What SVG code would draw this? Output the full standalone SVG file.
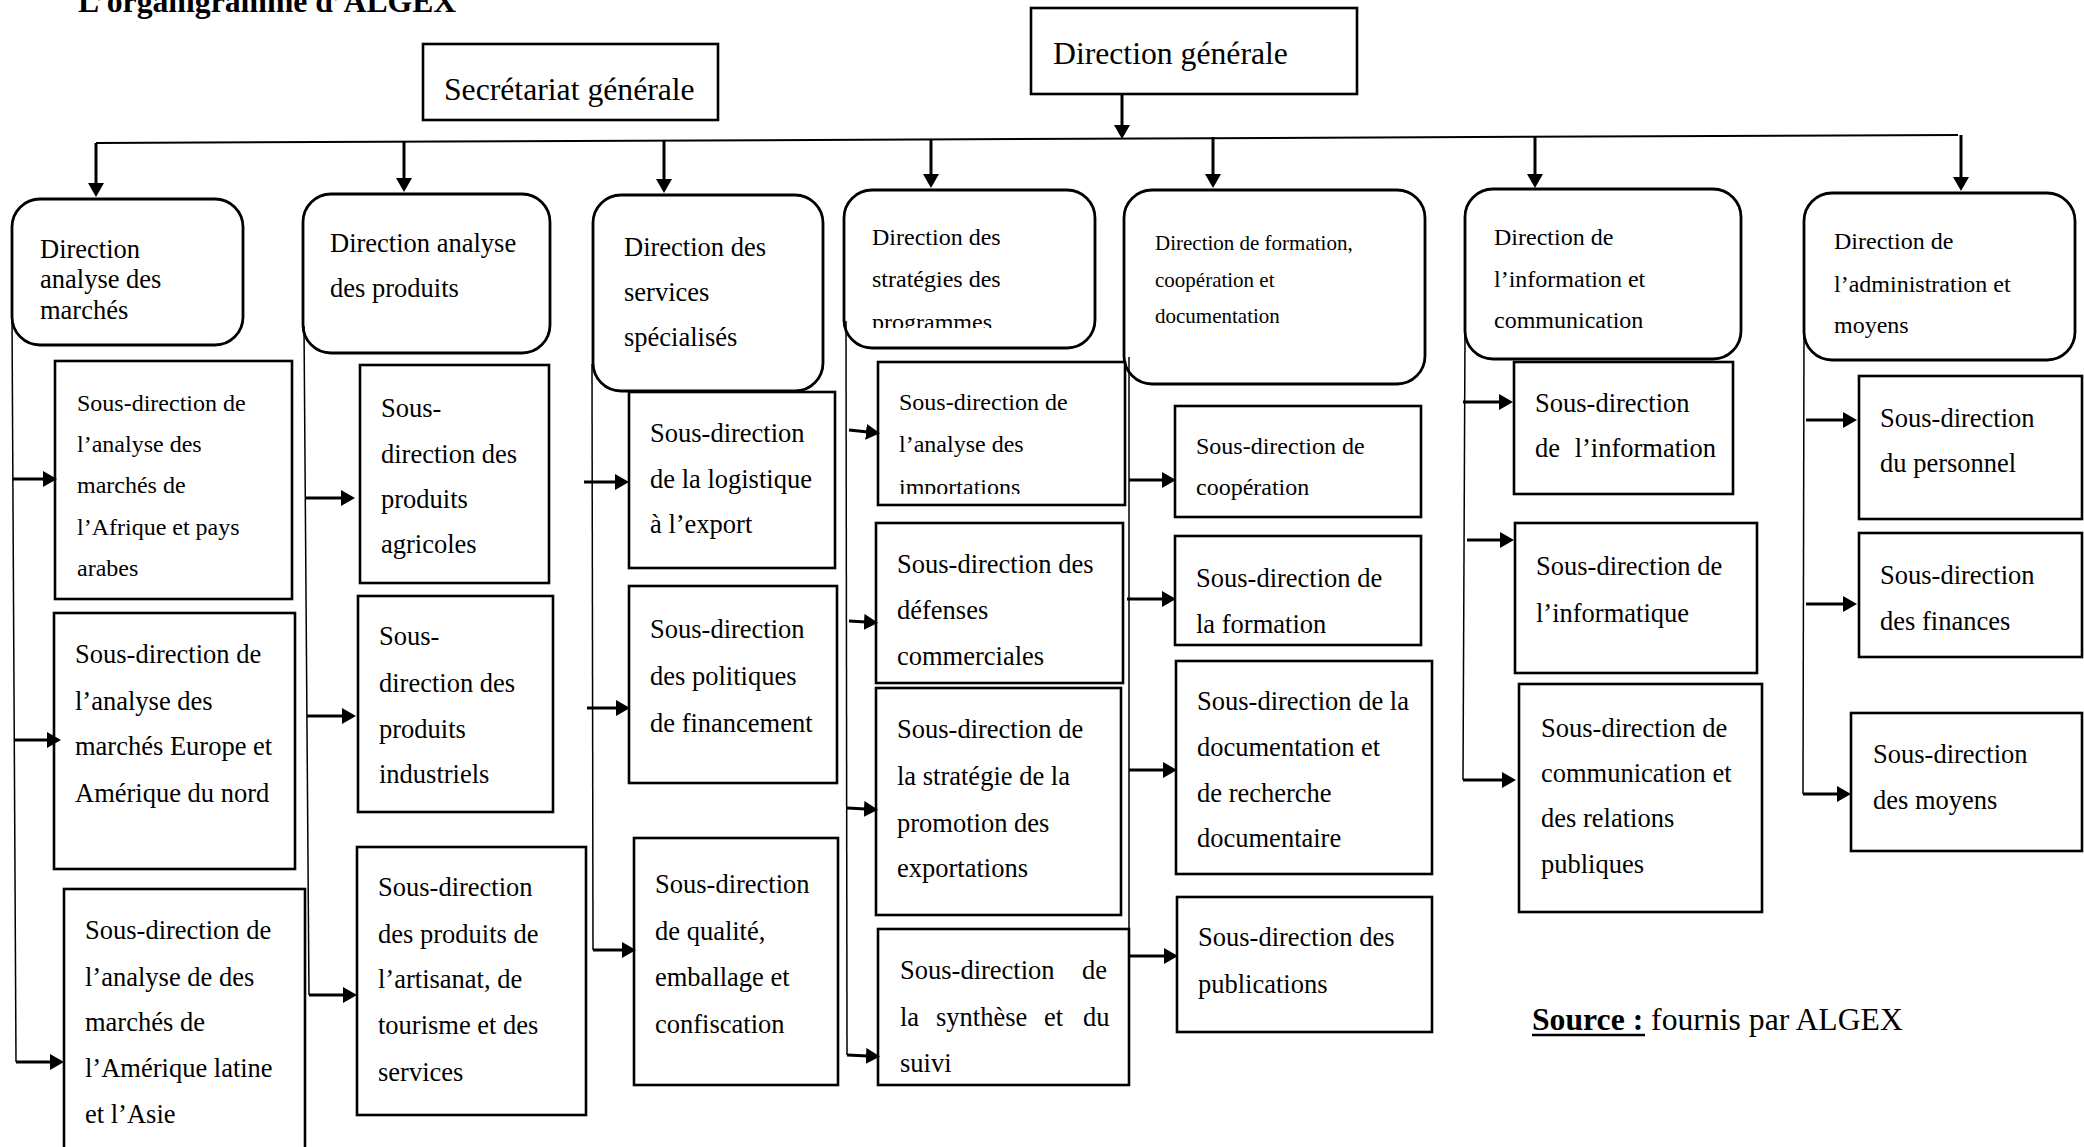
<svg xmlns="http://www.w3.org/2000/svg" width="2084" height="1147" viewBox="0 0 2084 1147">
<style>
text{font-family:"Liberation Serif","Times New Roman",serif;fill:#000}
.b{fill:#fff;stroke:#000;stroke-width:2.6}
.r{fill:#fff;stroke:#000;stroke-width:2.8}
.f32{font-size:31.7px}
.f26{font-size:26.5px}
.f24{font-size:24px}
.f21{font-size:21px}
.v{stroke:#000;stroke-width:1.5;fill:none}
.bus{stroke:#000;stroke-width:2;fill:none}
.a{stroke:#000;stroke-width:3;fill:none;marker-end:url(#ah)}
</style>
<defs>
<marker id="ah" markerUnits="userSpaceOnUse" markerWidth="16" markerHeight="16" refX="2" refY="8" orient="auto"><path d="M0,0 L14,8 L0,16 z" fill="#000"/></marker>
<clipPath id="c4"><rect x="844" y="190" width="251" height="138"/></clipPath>
<clipPath id="c4a"><rect x="878" y="361" width="247" height="133"/></clipPath>
</defs>

<text x="78" y="12" style="font-size:31.7px;font-weight:bold">L’organigramme d’ALGEX</text>

<g id="secretariat">
<rect class="b" x="423" y="44" width="295" height="76"/>
<text class="f32" x="444" y="100">Secrétariat générale</text>
</g>
<g id="direction-generale">
<rect class="b" x="1031" y="8" width="326" height="86"/>
<text class="f32" x="1053" y="64">Direction générale</text>
</g>

<g id="d1">
<rect class="r" x="12" y="199" width="231" height="146" rx="28"/>
<text class="f26"><tspan x="40" y="258">Direction</tspan><tspan x="40" y="288">analyse des</tspan><tspan x="40" y="319">marchés</tspan></text>
</g>
<g id="d2">
<rect class="r" x="303" y="194" width="247" height="159" rx="28"/>
<text class="f26"><tspan x="330" y="252">Direction analyse</tspan><tspan x="330" y="297">des produits</tspan></text>
</g>
<g id="d3">
<rect class="r" x="593" y="195" width="230" height="196" rx="28"/>
<text class="f26"><tspan x="624" y="256">Direction des</tspan><tspan x="624" y="301">services</tspan><tspan x="624" y="346">spécialisés</tspan></text>
</g>
<g id="d4">
<rect class="r" x="844" y="190" width="251" height="158" rx="28"/>
<text class="f24" clip-path="url(#c4)"><tspan x="872" y="245">Direction des</tspan><tspan x="872" y="287">stratégies des</tspan><tspan x="872" y="330">programmes</tspan></text>
</g>
<g id="d5">
<rect class="r" x="1124" y="190" width="301" height="194" rx="28"/>
<text class="f21"><tspan x="1155" y="250">Direction de formation,</tspan><tspan x="1155" y="287">coopération et</tspan><tspan x="1155" y="323">documentation</tspan></text>
</g>
<g id="d6">
<rect class="r" x="1465" y="189" width="276" height="170" rx="28"/>
<text class="f24"><tspan x="1494" y="245">Direction de</tspan><tspan x="1494" y="287">l’information et</tspan><tspan x="1494" y="328">communication</tspan></text>
</g>
<g id="d7">
<rect class="r" x="1804" y="193" width="271" height="167" rx="28"/>
<text class="f24"><tspan x="1834" y="249">Direction de</tspan><tspan x="1834" y="292">l’administration et</tspan><tspan x="1834" y="333">moyens</tspan></text>
</g>

<g id="s1a">
<rect class="b" x="55" y="361" width="237" height="238"/>
<text class="f24"><tspan x="77" y="411">Sous-direction de</tspan><tspan x="77" y="452">l’analyse des</tspan><tspan x="77" y="493">marchés de</tspan><tspan x="77" y="535">l’Afrique et pays</tspan><tspan x="77" y="576">arabes</tspan></text>
</g>
<g id="s1b">
<rect class="b" x="54" y="613" width="241" height="256"/>
<text class="f26"><tspan x="75" y="663">Sous-direction de</tspan><tspan x="75" y="710">l’analyse des</tspan><tspan x="75" y="755">marchés Europe et</tspan><tspan x="75" y="802">Amérique du nord</tspan></text>
</g>
<g id="s1c">
<rect class="b" x="64" y="889" width="241" height="280"/>
<text class="f26"><tspan x="85" y="939">Sous-direction de</tspan><tspan x="85" y="986">l’analyse de des</tspan><tspan x="85" y="1031">marchés de</tspan><tspan x="85" y="1077">l’Amérique latine</tspan><tspan x="85" y="1123">et l’Asie</tspan></text>
</g>

<g id="s2a">
<rect class="b" x="360" y="365" width="189" height="218"/>
<text class="f26"><tspan x="381" y="417">Sous-</tspan><tspan x="381" y="463">direction des</tspan><tspan x="381" y="508">produits</tspan><tspan x="381" y="553">agricoles</tspan></text>
</g>
<g id="s2b">
<rect class="b" x="358" y="596" width="195" height="216"/>
<text class="f26"><tspan x="379" y="645">Sous-</tspan><tspan x="379" y="692">direction des</tspan><tspan x="379" y="738">produits</tspan><tspan x="379" y="783">industriels</tspan></text>
</g>
<g id="s2c">
<rect class="b" x="357" y="847" width="229" height="268"/>
<text class="f26"><tspan x="378" y="896">Sous-direction</tspan><tspan x="378" y="943">des produits de</tspan><tspan x="378" y="988">l’artisanat, de</tspan><tspan x="378" y="1034">tourisme et des</tspan><tspan x="378" y="1081">services</tspan></text>
</g>

<g id="s3a">
<rect class="b" x="629" y="392" width="206" height="176"/>
<text class="f26"><tspan x="650" y="442">Sous-direction</tspan><tspan x="650" y="488">de la logistique</tspan><tspan x="650" y="533">à l’export</tspan></text>
</g>
<g id="s3b">
<rect class="b" x="629" y="586" width="208" height="197"/>
<text class="f26"><tspan x="650" y="638">Sous-direction</tspan><tspan x="650" y="685">des politiques</tspan><tspan x="650" y="732">de financement</tspan></text>
</g>
<g id="s3c">
<rect class="b" x="634" y="838" width="204" height="247"/>
<text class="f26"><tspan x="655" y="893">Sous-direction</tspan><tspan x="655" y="940">de qualité,</tspan><tspan x="655" y="986">emballage et</tspan><tspan x="655" y="1033">confiscation</tspan></text>
</g>

<g id="s4a">
<rect class="b" x="878" y="362" width="247" height="143"/>
<text class="f24" clip-path="url(#c4a)"><tspan x="899" y="410">Sous-direction de</tspan><tspan x="899" y="452">l’analyse des</tspan><tspan x="899" y="495">importations</tspan></text>
</g>
<g id="s4b">
<rect class="b" x="876" y="523" width="247" height="160"/>
<text class="f26"><tspan x="897" y="573">Sous-direction des</tspan><tspan x="897" y="619">défenses</tspan><tspan x="897" y="665">commerciales</tspan></text>
</g>
<g id="s4c">
<rect class="b" x="876" y="688" width="245" height="227"/>
<text class="f26"><tspan x="897" y="738">Sous-direction de</tspan><tspan x="897" y="785">la stratégie de la</tspan><tspan x="897" y="832">promotion des</tspan><tspan x="897" y="877">exportations</tspan></text>
</g>
<g id="s4d">
<rect class="b" x="878" y="929" width="251" height="156"/>
<text class="f26"><tspan x="900" y="979">Sous-direction</tspan><tspan x="1082" y="979">de</tspan><tspan x="900" y="1026">la</tspan><tspan x="936" y="1026">synthèse</tspan><tspan x="1044" y="1026">et</tspan><tspan x="1083" y="1026">du</tspan><tspan x="900" y="1072">suivi</tspan></text>
</g>

<g id="s5a">
<rect class="b" x="1175" y="406" width="246" height="111"/>
<text class="f24"><tspan x="1196" y="454">Sous-direction de</tspan><tspan x="1196" y="495">coopération</tspan></text>
</g>
<g id="s5b">
<rect class="b" x="1175" y="536" width="246" height="109"/>
<text class="f26"><tspan x="1196" y="587">Sous-direction de</tspan><tspan x="1196" y="633">la formation</tspan></text>
</g>
<g id="s5c">
<rect class="b" x="1176" y="661" width="256" height="213"/>
<text class="f26"><tspan x="1197" y="710">Sous-direction de la</tspan><tspan x="1197" y="756">documentation et</tspan><tspan x="1197" y="802">de recherche</tspan><tspan x="1197" y="847">documentaire</tspan></text>
</g>
<g id="s5d">
<rect class="b" x="1177" y="897" width="255" height="135"/>
<text class="f26"><tspan x="1198" y="946">Sous-direction des</tspan><tspan x="1198" y="993">publications</tspan></text>
</g>

<g id="s6a">
<rect class="b" x="1514" y="362" width="219" height="132"/>
<text class="f26"><tspan x="1535" y="412">Sous-direction</tspan><tspan x="1535" y="457" word-spacing="8">de l’information</tspan></text>
</g>
<g id="s6b">
<rect class="b" x="1515" y="523" width="242" height="150"/>
<text class="f26"><tspan x="1536" y="575">Sous-direction de</tspan><tspan x="1536" y="622">l’informatique</tspan></text>
</g>
<g id="s6c">
<rect class="b" x="1519" y="684" width="243" height="228"/>
<text class="f26"><tspan x="1541" y="737">Sous-direction de</tspan><tspan x="1541" y="782">communication et</tspan><tspan x="1541" y="827">des relations</tspan><tspan x="1541" y="873">publiques</tspan></text>
</g>

<g id="s7a">
<rect class="b" x="1859" y="376" width="223" height="143"/>
<text class="f26"><tspan x="1880" y="427">Sous-direction</tspan><tspan x="1880" y="472">du personnel</tspan></text>
</g>
<g id="s7b">
<rect class="b" x="1859" y="533" width="223" height="124"/>
<text class="f26"><tspan x="1880" y="584">Sous-direction</tspan><tspan x="1880" y="630">des finances</tspan></text>
</g>
<g id="s7c">
<rect class="b" x="1851" y="713" width="231" height="138"/>
<text class="f26"><tspan x="1873" y="763">Sous-direction</tspan><tspan x="1873" y="809">des moyens</tspan></text>
</g>

<g id="connectors">
<line class="bus" x1="96" y1="143" x2="1958" y2="135"/>
<line class="a" x1="1122" y1="94" x2="1122" y2="127"/>
<line class="a" x1="96" y1="143" x2="96" y2="185"/>
<line class="a" x1="404" y1="141" x2="404" y2="180"/>
<line class="a" x1="664" y1="140" x2="664" y2="181"/>
<line class="a" x1="931" y1="139" x2="931" y2="176"/>
<line class="a" x1="1213" y1="137" x2="1213" y2="176"/>
<line class="a" x1="1535" y1="136" x2="1535" y2="176"/>
<line class="a" x1="1961" y1="135" x2="1961" y2="179"/>

<polyline class="v" points="12,318 16,1062"/>
<line class="a" x1="12.5" y1="479" x2="45" y2="479"/>
<line class="a" x1="14" y1="740" x2="49" y2="740"/>
<line class="a" x1="16" y1="1062" x2="52" y2="1062"/>

<polyline class="v" points="304,326 309,995"/>
<line class="a" x1="305" y1="498" x2="343" y2="498"/>
<line class="a" x1="307" y1="716" x2="344" y2="716"/>
<line class="a" x1="309" y1="995" x2="345" y2="995"/>

<polyline class="v" points="592,364 593,950"/>
<line class="a" x1="584" y1="482" x2="617" y2="482"/>
<line class="a" x1="587" y1="708" x2="618" y2="708"/>
<line class="a" x1="593" y1="950" x2="624" y2="950"/>

<polyline class="v" points="846,321 847,1055"/>
<line class="a" x1="849" y1="430" x2="868" y2="432"/>
<line class="a" x1="849" y1="621" x2="866" y2="622"/>
<line class="a" x1="847" y1="808" x2="866" y2="809"/>
<line class="a" x1="847" y1="1055" x2="868" y2="1056"/>

<polyline class="v" points="1129,357 1129,956"/>
<line class="a" x1="1129" y1="480" x2="1164" y2="480"/>
<line class="a" x1="1127" y1="599" x2="1164" y2="599"/>
<line class="a" x1="1129" y1="770" x2="1165" y2="770"/>
<line class="a" x1="1129" y1="956" x2="1166" y2="956"/>

<polyline class="v" points="1465,332 1463,780"/>
<line class="a" x1="1463" y1="402" x2="1501" y2="402"/>
<line class="a" x1="1467" y1="540" x2="1502" y2="540"/>
<line class="a" x1="1463" y1="780" x2="1504" y2="780"/>

<polyline class="v" points="1804,333 1803,794"/>
<line class="a" x1="1806" y1="420" x2="1845" y2="420"/>
<line class="a" x1="1806" y1="604" x2="1845" y2="604"/>
<line class="a" x1="1803" y1="794" x2="1839" y2="794"/>
</g>

<g id="source">
<text x="1532" y="1030" style="font-size:31.7px"><tspan style="font-weight:bold">Source :</tspan> fournis par ALGEX</text>
<line x1="1532" y1="1035" x2="1645" y2="1035" stroke="#000" stroke-width="2.5"/>
</g>
</svg>
